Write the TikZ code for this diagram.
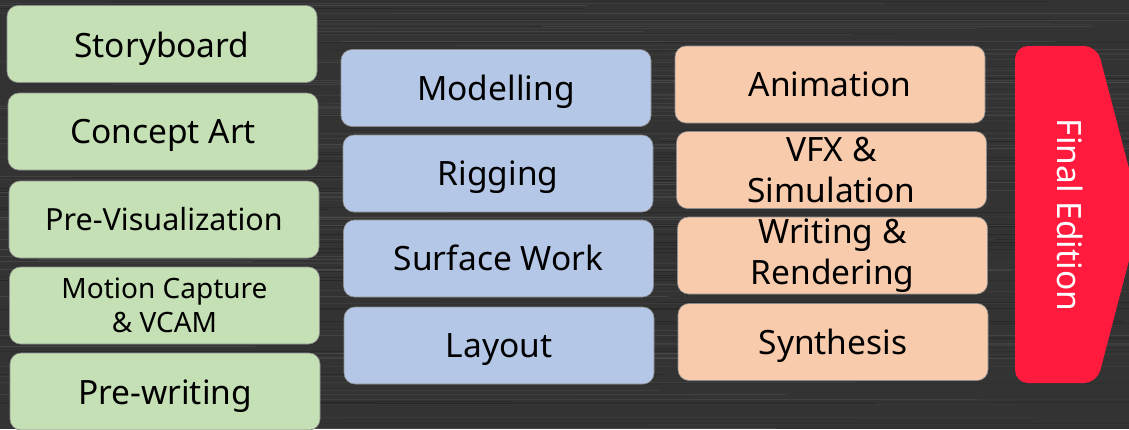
\documentclass[tikz,border=0pt]{standalone}
\usepackage{fontspec}
\setmainfont{Noto Sans}
\definecolor{bggray}{HTML}{333333}
\definecolor{gfill}{HTML}{C5E0B4}
\definecolor{bfill}{HTML}{B4C7E7}
\definecolor{ofill}{HTML}{F8CBAD}
\definecolor{rfill}{HTML}{FF1A3E}
\tikzset{
  card/.style={rounded corners=11pt, inner sep=0pt, minimum width=310pt, minimum height=77pt, align=center, text=black, draw=black!45, line width=0.6pt},
  gcard/.style={card, fill=gfill},
  bcard/.style={card, fill=bfill},
  ocard/.style={card, fill=ofill},
  big/.style={font=\fontsize{33.5}{41.5}\selectfont},
  one/.style={text depth=0pt, text height=#1},
  one/.default=25pt,
  small/.style={font=\fontsize{28}{35.5}\selectfont},
}
\begin{document}
\begin{tikzpicture}[x=1pt,y=-1pt]
\useasboundingbox (0,0) rectangle (1129,429);
\clip (0,0) rectangle (1129,429);
\fill[bggray] (0,0) rectangle (1129,429);
\pgfmathsetseed{7}
\foreach \i in {1,...,260}{
  \pgfmathsetmacro\yy{rnd*429}
  \pgfmathsetmacro\gg{int(12+rnd*22)}
  \pgfmathsetmacro\xx{rnd*900-200}
  \pgfmathsetmacro\ll{300+rnd*900}
  \draw[color=white!\gg!black, line width=0.8pt, opacity=0.55] (\xx,\yy) -- ++(\ll,0);
}
% green column
\node[gcard, big, one=26pt] (g1) at (162,44) {Storyboard};
\node[gcard, big, one=24pt] (g2) at (163,131.5) {Concept Art};
\node[gcard, font=\fontsize{30.5}{38}\selectfont, one=21pt] (g3) at (164,219.5) {Pre-Visualization};
\node[gcard, small] (g4) at (164.5,305.5) {Motion Capture\\[-1pt]\& VCAM};
\node[gcard, big, one=25pt] (g5) at (165,391.5) {Pre-writing};
% blue column
\node[bcard, big, one=25pt] (b1) at (496,88) {Modelling};
\node[bcard, big, one=24pt] (b2) at (498,173.5) {Rigging};
\node[bcard, big, one=24pt] (b3) at (498.5,258.5) {Surface Work};
\node[bcard, big, one=23pt] (b4) at (499,345.5) {Layout};
% orange column
\node[ocard, big, one=24pt] (o1) at (830,84.5) {Animation};
\node[ocard, big] (o2) at (831.5,170) {VFX \&\\Simulation};
\node[ocard, big] (o3) at (832.5,255.5) {Writing \&\\Rendering};
\node[ocard, big, one=24pt] (o4) at (833,342) {Synthesis};
% final edition arrow
\fill[rfill, rounded corners=13pt] (1015,46) -- (1097,46) -- (1141,214.5) -- (1097,383) -- (1015,383) -- cycle;
\node[rotate=-90, text=white, big, one=26pt] (fin) at (1070,215) {Final Edition};
\end{tikzpicture}
\end{document}
